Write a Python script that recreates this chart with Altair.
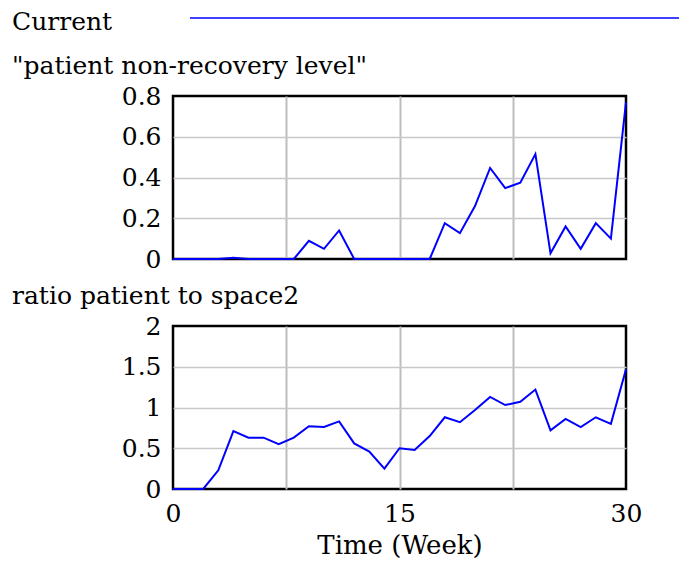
import altair as alt
import pandas as pd

# ---- data ----
weeks = list(range(31))
nonrecovery = [0, 0, 0, 0, 0.006, 0, 0, 0, 0, 0.089, 0.05, 0.14, 0, 0, 0, 0, 0, 0,
               0.176, 0.127, 0.26, 0.447, 0.348, 0.374, 0.515, 0.028, 0.16, 0.05,
               0.176, 0.10, 0.77]
ratio = [0, 0, 0, 0.23, 0.71, 0.63, 0.63, 0.55, 0.63, 0.77, 0.76, 0.83, 0.56, 0.46,
         0.25, 0.50, 0.48, 0.65, 0.88, 0.82, 0.97, 1.13, 1.03, 1.07, 1.22, 0.72,
         0.86, 0.76, 0.88, 0.80, 1.47]
x_grid_values = [0, 7.5, 15, 22.5, 30]
top_y_ticks = [0, 0.2, 0.4, 0.6, 0.8]
bottom_y_ticks = [0, 0.5, 1, 1.5, 2]
top_title = ['"patient non-recovery level"']
bottom_title = ["ratio patient to space2"]
legend_name = ["Current"]
x_title = "Time (Week)"

FONT = "DejaVu Serif"
BLUE = "#0000ff"
W, H = 453, 163


def edge_hidden(lo, hi):
    return {"condition": {"test": f"datum.value == {lo} || datum.value == {hi}", "value": 0},
            "value": 1}


def panel(values, ymax, yticks, title, show_x, with_legend):
    df = pd.DataFrame({"week": weeks, "value": values})
    common_x = dict(values=x_grid_values, grid=True, ticks=False, domain=False,
                    gridColor="#bdbdbd", gridWidth=2, gridOpacity=edge_hidden(0, 30))
    if show_x:
        xaxis = alt.Axis(labelExpr="datum.value % 15 == 0 ? datum.label : ''",
                         labelFont=FONT, labelFontSize=25, labelColor="black",
                         labelPadding=12, labelFlush=False,
                         titleFont=FONT, titleFontSize=26, titleFontWeight="normal",
                         titleColor="black", titlePadding=6, **common_x)
        xenc = alt.X("week:Q", scale=alt.Scale(domain=[0, 30], nice=False),
                     axis=xaxis, title=x_title)
    else:
        xaxis = alt.Axis(labels=False, **common_x)
        xenc = alt.X("week:Q", scale=alt.Scale(domain=[0, 30], nice=False),
                     axis=xaxis, title=None)
    yaxis = alt.Axis(values=yticks, format="~g", grid=True, ticks=False, domain=False,
                     labelFont=FONT, labelFontSize=25, labelColor="black",
                     labelPadding=12, labelFlush=False,
                     gridColor="#c8c8c8", gridWidth=1.5,
                     gridOpacity=edge_hidden(0, ymax))
    line = alt.Chart(df).mark_line(color=BLUE, strokeWidth=2, clip=False).encode(
        x=xenc,
        y=alt.Y("value:Q", scale=alt.Scale(domain=[0, ymax], nice=False),
                axis=yaxis, title=None),
    )
    ttl = alt.Chart(pd.DataFrame({"t": title})).mark_text(
        font=FONT, fontSize=25, align="left", baseline="alphabetic", color="black"
    ).encode(text="t:N", x=alt.value(-161), y=alt.value(-22))
    layers = [line, ttl]
    if with_legend:
        leg_df = pd.DataFrame({"t": legend_name})
        leg_text = alt.Chart(leg_df).mark_text(
            font=FONT, fontSize=25, align="left", baseline="alphabetic", color="black"
        ).encode(text="t:N", x=alt.value(-161), y=alt.value(-66))
        leg_line = alt.Chart(leg_df).mark_rule(color=BLUE, strokeWidth=1.5).encode(
            x=alt.value(17), x2=alt.value(506), y=alt.value(-78))
        layers += [leg_text, leg_line]
    return alt.layer(*layers).properties(width=W, height=H)


top = panel(nonrecovery, 0.8, top_y_ticks, top_title, False, True)
bottom = panel(ratio, 2, bottom_y_ticks, bottom_title, True, False)

chart = alt.vconcat(top, bottom, spacing=67, bounds="flush").properties(
    padding={"left": 2, "top": 0, "right": 0, "bottom": 0}
).configure_view(stroke="black", strokeWidth=2.5)

chart.save("out.html", embed_options={"renderer": "svg", "actions": False})
